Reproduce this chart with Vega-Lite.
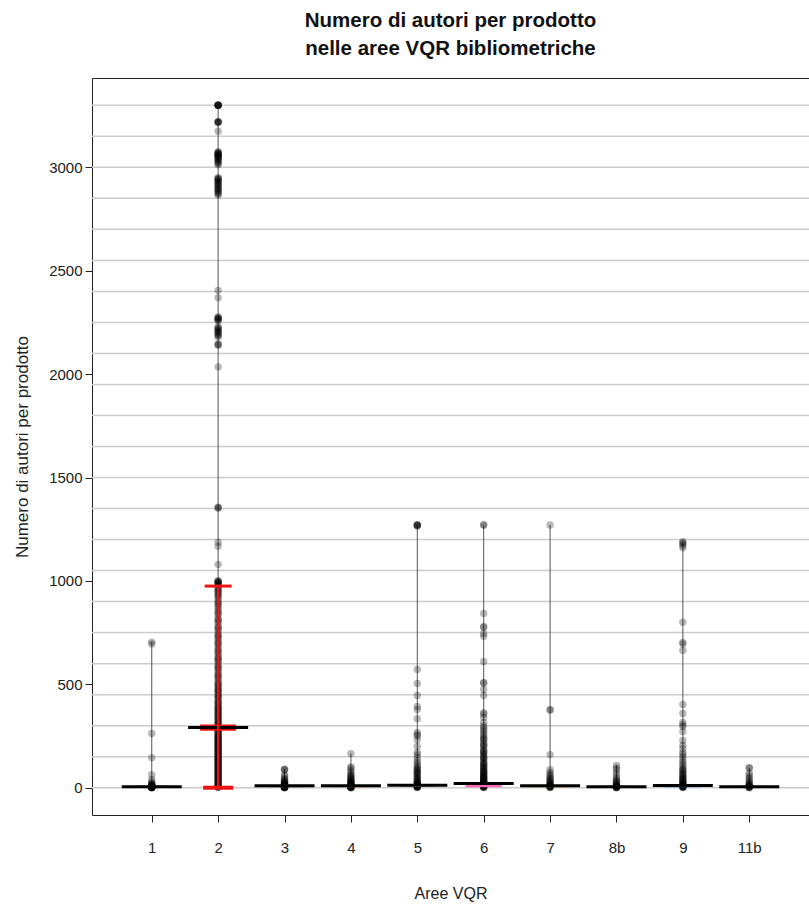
{
  "$schema": "https://vega.github.io/schema/vega-lite/v6.json",
  "width": 717,
  "height": 737,
  "autosize": {"type": "none"},
  "padding": {"left": 92, "top": 78, "right": 0, "bottom": 91},
  "background": "white",
  "title": {
    "text": ["Numero di autori per prodotto", "nelle aree VQR bibliometriche"],
    "font": "Liberation Sans",
    "fontSize": 20.5,
    "fontWeight": "bold",
    "color": "#111111",
    "lineHeight": 28,
    "offset": 19,
    "anchor": "middle"
  },
  "config": {
    "view": {"stroke": "#222222", "strokeWidth": 1},
    "font": "Liberation Sans",
    "axisX": {
      "titleFont": "Liberation Sans", "titleFontSize": 16, "titleFontWeight": "normal", "titleColor": "#222222", "titlePadding": 30,
      "labelAngle": 0, "labelFont": "Liberation Sans", "labelFontSize": 15, "labelColor": "#222222", "labelPadding": 18,
      "domain": false, "ticks": true, "tickSize": 7, "tickColor": "#222222", "grid": false
    },
    "axisY": {
      "titleFont": "Liberation Sans", "titleFontSize": 17, "titleFontWeight": "normal", "titleColor": "#222222", "titlePadding": 17,
      "labelFont": "Liberation Sans", "labelFontSize": 15, "labelColor": "#222222", "labelPadding": 3, "format": "d",
      "domain": false, "ticks": true, "tickSize": 7, "tickColor": "#222222", "grid": false
    }
  },
  "datasets": {
    "grid": [
      {"g": 0}, {"g": 150}, {"g": 300}, {"g": 450}, {"g": 600}, {"g": 750}, {"g": 900}, {"g": 1050},
      {"g": 1200}, {"g": 1350}, {"g": 1500}, {"g": 1650}, {"g": 1800}, {"g": 1950}, {"g": 2100},
      {"g": 2250}, {"g": 2400}, {"g": 2550}, {"g": 2700}, {"g": 2850}, {"g": 3000}, {"g": 3150}, {"g": 3300}
    ],
    "sum": [
      {"a": "1", "lo": 0, "hi": 704, "m": 5, "b1": 1, "b2": 9},
      {"a": "2", "lo": 0, "hi": 3300, "m": 291, "b1": 276, "b2": 306},
      {"a": "3", "lo": 0, "hi": 90, "m": 9, "b1": 2, "b2": 10},
      {"a": "4", "lo": 0, "hi": 165, "m": 9, "b1": 2, "b2": 10},
      {"a": "5", "lo": 0, "hi": 1270, "m": 12, "b1": 4, "b2": 14},
      {"a": "6", "lo": 0, "hi": 1270, "m": 20, "b1": 2, "b2": 22},
      {"a": "7", "lo": 0, "hi": 1270, "m": 9, "b1": 2, "b2": 10},
      {"a": "8b", "lo": 0, "hi": 108, "m": 5, "b1": 1, "b2": 9},
      {"a": "9", "lo": 0, "hi": 1190, "m": 11, "b1": 2, "b2": 12},
      {"a": "11b", "lo": 0, "hi": 97, "m": 5, "b1": 1, "b2": 9}
    ],
    "err": [
      {"a": "2", "lo": 0, "hi": 975}
    ],
    "pts": [
      {"a":"1","v":704},{"a":"1","v":695},{"a":"1","v":262},{"a":"1","v":145},{"a":"1","v":63},{"a":"1","v":40},{"a":"1","v":29},{"a":"1","v":22},{"a":"1","v":18},{"a":"1","v":15},{"a":"1","v":13},{"a":"1","v":11},{"a":"1","v":10},{"a":"1","v":9},{"a":"1","v":8},{"a":"1","v":7},{"a":"1","v":7},{"a":"1","v":6},{"a":"1","v":6},{"a":"1","v":5},{"a":"1","v":5},{"a":"1","v":5},{"a":"1","v":4},{"a":"1","v":4},{"a":"1","v":4},{"a":"1","v":3},{"a":"1","v":3},{"a":"1","v":3},{"a":"1","v":2},{"a":"1","v":2},{"a":"1","v":2},{"a":"1","v":1},{"a":"1","v":1},{"a":"1","v":1},{"a":"1","v":0},{"a":"1","v":0},

      {"a":"2","v":3300},{"a":"2","v":3300},{"a":"2","v":3300},{"a":"2","v":3300},{"a":"2","v":3300},{"a":"2","v":3300},{"a":"2","v":3300},{"a":"2","v":3220},{"a":"2","v":3220},{"a":"2","v":3220},{"a":"2","v":3220},{"a":"2","v":3215},{"a":"2","v":3175},
      {"a":"2","v":3075},{"a":"2","v":3072},{"a":"2","v":3070},{"a":"2","v":3068},{"a":"2","v":3065},{"a":"2","v":3062},{"a":"2","v":3060},{"a":"2","v":3058},{"a":"2","v":3055},{"a":"2","v":3052},{"a":"2","v":3050},{"a":"2","v":3046},{"a":"2","v":3042},{"a":"2","v":3038},{"a":"2","v":3033},{"a":"2","v":3028},{"a":"2","v":3022},{"a":"2","v":3017},{"a":"2","v":3012},
      {"a":"2","v":2950},{"a":"2","v":2947},{"a":"2","v":2944},{"a":"2","v":2940},{"a":"2","v":2936},{"a":"2","v":2931},{"a":"2","v":2926},{"a":"2","v":2922},{"a":"2","v":2918},{"a":"2","v":2912},{"a":"2","v":2907},{"a":"2","v":2902},{"a":"2","v":2897},{"a":"2","v":2893},{"a":"2","v":2888},{"a":"2","v":2882},{"a":"2","v":2877},{"a":"2","v":2871},{"a":"2","v":2866},
      {"a":"2","v":2405},{"a":"2","v":2369},{"a":"2","v":2277},{"a":"2","v":2274},{"a":"2","v":2271},{"a":"2","v":2268},{"a":"2","v":2265},{"a":"2","v":2261},{"a":"2","v":2258},{"a":"2","v":2228},{"a":"2","v":2225},{"a":"2","v":2221},{"a":"2","v":2215},{"a":"2","v":2210},{"a":"2","v":2205},{"a":"2","v":2201},{"a":"2","v":2195},{"a":"2","v":2190},{"a":"2","v":2185},{"a":"2","v":2180},{"a":"2","v":2146},{"a":"2","v":2143},{"a":"2","v":2140},{"a":"2","v":2035},
      {"a":"2","v":1357},{"a":"2","v":1354},{"a":"2","v":1352},{"a":"2","v":1187},{"a":"2","v":1168},{"a":"2","v":1080},
      {"a":"2","v":1001},{"a":"2","v":998},{"a":"2","v":996},{"a":"2","v":993},{"a":"2","v":991},{"a":"2","v":988},{"a":"2","v":984},{"a":"2","v":979},{"a":"2","v":971},{"a":"2","v":963},{"a":"2","v":953},{"a":"2","v":947},{"a":"2","v":938},{"a":"2","v":931},{"a":"2","v":917},{"a":"2","v":904},{"a":"2","v":896},{"a":"2","v":881},{"a":"2","v":872},{"a":"2","v":860},{"a":"2","v":851},{"a":"2","v":836},{"a":"2","v":818},{"a":"2","v":806},{"a":"2","v":797},{"a":"2","v":781},{"a":"2","v":768},{"a":"2","v":759},{"a":"2","v":744},{"a":"2","v":737},{"a":"2","v":724},{"a":"2","v":713},{"a":"2","v":702},{"a":"2","v":691},{"a":"2","v":678},{"a":"2","v":669},{"a":"2","v":654},{"a":"2","v":646},{"a":"2","v":633},{"a":"2","v":626},{"a":"2","v":614},{"a":"2","v":606},{"a":"2","v":593},{"a":"2","v":586},{"a":"2","v":574},{"a":"2","v":566},{"a":"2","v":553},{"a":"2","v":546},{"a":"2","v":533},{"a":"2","v":527},{"a":"2","v":514},{"a":"2","v":506},{"a":"2","v":497},{"a":"2","v":491},{"a":"2","v":481},{"a":"2","v":476},{"a":"2","v":467},{"a":"2","v":461},{"a":"2","v":451},{"a":"2","v":446},{"a":"2","v":437},{"a":"2","v":431},{"a":"2","v":421},{"a":"2","v":416},{"a":"2","v":407},{"a":"2","v":401},{"a":"2","v":393},{"a":"2","v":389},{"a":"2","v":381},{"a":"2","v":377},{"a":"2","v":369},{"a":"2","v":365},{"a":"2","v":357},{"a":"2","v":353},{"a":"2","v":345},{"a":"2","v":341},{"a":"2","v":333},{"a":"2","v":329},{"a":"2","v":321},{"a":"2","v":317},{"a":"2","v":309},{"a":"2","v":306},{"a":"2","v":299},{"a":"2","v":296},{"a":"2","v":289},{"a":"2","v":286},{"a":"2","v":279},{"a":"2","v":276},{"a":"2","v":269},{"a":"2","v":266},{"a":"2","v":259},{"a":"2","v":256},{"a":"2","v":249},{"a":"2","v":247},{"a":"2","v":242},{"a":"2","v":238},{"a":"2","v":233},{"a":"2","v":230},{"a":"2","v":225},{"a":"2","v":222},{"a":"2","v":217},{"a":"2","v":214},{"a":"2","v":209},{"a":"2","v":206},{"a":"2","v":201},{"a":"2","v":198},{"a":"2","v":193},{"a":"2","v":190},{"a":"2","v":185},{"a":"2","v":182},{"a":"2","v":177},{"a":"2","v":174},{"a":"2","v":169},{"a":"2","v":166},{"a":"2","v":161},{"a":"2","v":158},{"a":"2","v":153},{"a":"2","v":150},{"a":"2","v":145},{"a":"2","v":142},{"a":"2","v":137},{"a":"2","v":134},{"a":"2","v":129},{"a":"2","v":126},{"a":"2","v":121},{"a":"2","v":118},{"a":"2","v":113},{"a":"2","v":110},{"a":"2","v":105},{"a":"2","v":102},{"a":"2","v":97},{"a":"2","v":94},{"a":"2","v":89},{"a":"2","v":86},{"a":"2","v":81},{"a":"2","v":78},{"a":"2","v":73},{"a":"2","v":70},{"a":"2","v":65},{"a":"2","v":62},{"a":"2","v":57},{"a":"2","v":54},{"a":"2","v":49},{"a":"2","v":46},{"a":"2","v":41},{"a":"2","v":38},{"a":"2","v":33},{"a":"2","v":30},{"a":"2","v":25},{"a":"2","v":22},{"a":"2","v":17},{"a":"2","v":14},{"a":"2","v":9},{"a":"2","v":6},{"a":"2","v":3},{"a":"2","v":1},
      {"a":"2","v":955},{"a":"2","v":925},{"a":"2","v":888},{"a":"2","v":843},{"a":"2","v":812},{"a":"2","v":775},{"a":"2","v":731},{"a":"2","v":697},{"a":"2","v":661},{"a":"2","v":621},{"a":"2","v":580},{"a":"2","v":540},{"a":"2","v":502},{"a":"2","v":471},{"a":"2","v":442},{"a":"2","v":411},{"a":"2","v":385},{"a":"2","v":361},{"a":"2","v":337},{"a":"2","v":313},{"a":"2","v":292},{"a":"2","v":272},{"a":"2","v":252},{"a":"2","v":235},{"a":"2","v":219},{"a":"2","v":203},{"a":"2","v":187},{"a":"2","v":171},{"a":"2","v":155},{"a":"2","v":139},{"a":"2","v":123},{"a":"2","v":107},{"a":"2","v":91},{"a":"2","v":75},{"a":"2","v":59},{"a":"2","v":43},{"a":"2","v":27},{"a":"2","v":11},{"a":"2","v":2},

      {"a":"3","v":90},{"a":"3","v":88},{"a":"3","v":85},{"a":"3","v":60},{"a":"3","v":55},{"a":"3","v":45},{"a":"3","v":40},{"a":"3","v":35},{"a":"3","v":30},{"a":"3","v":28},{"a":"3","v":25},{"a":"3","v":22},{"a":"3","v":20},{"a":"3","v":18},{"a":"3","v":16},{"a":"3","v":15},{"a":"3","v":14},{"a":"3","v":12},{"a":"3","v":11},{"a":"3","v":10},{"a":"3","v":9},{"a":"3","v":8},{"a":"3","v":8},{"a":"3","v":7},{"a":"3","v":6},{"a":"3","v":6},{"a":"3","v":5},{"a":"3","v":5},{"a":"3","v":4},{"a":"3","v":4},{"a":"3","v":3},{"a":"3","v":3},{"a":"3","v":2},{"a":"3","v":2},{"a":"3","v":1},{"a":"3","v":1},{"a":"3","v":1},{"a":"3","v":0},

      {"a":"4","v":165},{"a":"4","v":100},{"a":"4","v":95},{"a":"4","v":85},{"a":"4","v":75},{"a":"4","v":65},{"a":"4","v":60},{"a":"4","v":55},{"a":"4","v":50},{"a":"4","v":45},{"a":"4","v":40},{"a":"4","v":38},{"a":"4","v":35},{"a":"4","v":30},{"a":"4","v":28},{"a":"4","v":25},{"a":"4","v":22},{"a":"4","v":20},{"a":"4","v":18},{"a":"4","v":16},{"a":"4","v":14},{"a":"4","v":12},{"a":"4","v":10},{"a":"4","v":9},{"a":"4","v":8},{"a":"4","v":7},{"a":"4","v":6},{"a":"4","v":5},{"a":"4","v":5},{"a":"4","v":4},{"a":"4","v":4},{"a":"4","v":3},{"a":"4","v":3},{"a":"4","v":2},{"a":"4","v":2},{"a":"4","v":1},{"a":"4","v":1},{"a":"4","v":0},

      {"a":"5","v":1270},{"a":"5","v":1270},{"a":"5","v":1270},{"a":"5","v":1268},{"a":"5","v":1265},{"a":"5","v":572},{"a":"5","v":504},{"a":"5","v":446},{"a":"5","v":393},{"a":"5","v":378},{"a":"5","v":334},{"a":"5","v":267},{"a":"5","v":257},{"a":"5","v":250},{"a":"5","v":232},{"a":"5","v":200},{"a":"5","v":170},{"a":"5","v":160},{"a":"5","v":145},{"a":"5","v":130},{"a":"5","v":120},{"a":"5","v":110},{"a":"5","v":100},{"a":"5","v":95},{"a":"5","v":90},{"a":"5","v":85},{"a":"5","v":80},{"a":"5","v":75},{"a":"5","v":70},{"a":"5","v":65},{"a":"5","v":60},{"a":"5","v":55},{"a":"5","v":50},{"a":"5","v":45},{"a":"5","v":40},{"a":"5","v":36},{"a":"5","v":32},{"a":"5","v":28},{"a":"5","v":25},{"a":"5","v":22},{"a":"5","v":20},{"a":"5","v":18},{"a":"5","v":16},{"a":"5","v":14},{"a":"5","v":12},{"a":"5","v":10},{"a":"5","v":9},{"a":"5","v":8},{"a":"5","v":7},{"a":"5","v":6},{"a":"5","v":5},{"a":"5","v":4},{"a":"5","v":3},{"a":"5","v":2},{"a":"5","v":1},

      {"a":"6","v":1270},{"a":"6","v":1270},{"a":"6","v":843},{"a":"6","v":780},{"a":"6","v":775},{"a":"6","v":746},{"a":"6","v":732},{"a":"6","v":610},{"a":"6","v":509},{"a":"6","v":505},{"a":"6","v":475},{"a":"6","v":446},{"a":"6","v":363},{"a":"6","v":355},{"a":"6","v":340},{"a":"6","v":315},{"a":"6","v":300},{"a":"6","v":290},{"a":"6","v":280},{"a":"6","v":271},{"a":"6","v":260},{"a":"6","v":250},{"a":"6","v":240},{"a":"6","v":230},{"a":"6","v":218},{"a":"6","v":210},{"a":"6","v":200},{"a":"6","v":190},{"a":"6","v":180},{"a":"6","v":172},{"a":"6","v":165},{"a":"6","v":158},{"a":"6","v":150},{"a":"6","v":142},{"a":"6","v":135},{"a":"6","v":128},{"a":"6","v":120},{"a":"6","v":114},{"a":"6","v":108},{"a":"6","v":102},{"a":"6","v":96},{"a":"6","v":90},{"a":"6","v":85},{"a":"6","v":80},{"a":"6","v":75},{"a":"6","v":70},{"a":"6","v":65},{"a":"6","v":60},{"a":"6","v":56},{"a":"6","v":52},{"a":"6","v":48},{"a":"6","v":44},{"a":"6","v":40},{"a":"6","v":36},{"a":"6","v":33},{"a":"6","v":30},{"a":"6","v":27},{"a":"6","v":24},{"a":"6","v":21},{"a":"6","v":18},{"a":"6","v":16},{"a":"6","v":14},{"a":"6","v":12},{"a":"6","v":10},{"a":"6","v":8},{"a":"6","v":6},{"a":"6","v":5},{"a":"6","v":4},{"a":"6","v":3},{"a":"6","v":2},{"a":"6","v":1},
      {"a":"6","v":236},{"a":"6","v":205},{"a":"6","v":176},{"a":"6","v":146},{"a":"6","v":117},{"a":"6","v":99},{"a":"6","v":82},{"a":"6","v":67},{"a":"6","v":54},{"a":"6","v":42},{"a":"6","v":31},{"a":"6","v":22},{"a":"6","v":13},{"a":"6","v":7},

      {"a":"7","v":1270},{"a":"7","v":378},{"a":"7","v":375},{"a":"7","v":160},{"a":"7","v":87},{"a":"7","v":75},{"a":"7","v":65},{"a":"7","v":58},{"a":"7","v":50},{"a":"7","v":45},{"a":"7","v":40},{"a":"7","v":35},{"a":"7","v":30},{"a":"7","v":26},{"a":"7","v":22},{"a":"7","v":18},{"a":"7","v":15},{"a":"7","v":12},{"a":"7","v":10},{"a":"7","v":8},{"a":"7","v":6},{"a":"7","v":5},{"a":"7","v":4},{"a":"7","v":3},{"a":"7","v":2},{"a":"7","v":1},

      {"a":"8b","v":108},{"a":"8b","v":95},{"a":"8b","v":87},{"a":"8b","v":73},{"a":"8b","v":60},{"a":"8b","v":48},{"a":"8b","v":40},{"a":"8b","v":35},{"a":"8b","v":30},{"a":"8b","v":25},{"a":"8b","v":20},{"a":"8b","v":16},{"a":"8b","v":12},{"a":"8b","v":10},{"a":"8b","v":8},{"a":"8b","v":6},{"a":"8b","v":5},{"a":"8b","v":4},{"a":"8b","v":3},{"a":"8b","v":2},{"a":"8b","v":1},{"a":"8b","v":1},{"a":"8b","v":0},

      {"a":"9","v":1190},{"a":"9","v":1185},{"a":"9","v":1180},{"a":"9","v":1170},{"a":"9","v":1160},{"a":"9","v":800},{"a":"9","v":702},{"a":"9","v":695},{"a":"9","v":664},{"a":"9","v":402},{"a":"9","v":359},{"a":"9","v":315},{"a":"9","v":305},{"a":"9","v":296},{"a":"9","v":271},{"a":"9","v":228},{"a":"9","v":205},{"a":"9","v":190},{"a":"9","v":170},{"a":"9","v":160},{"a":"9","v":150},{"a":"9","v":136},{"a":"9","v":125},{"a":"9","v":115},{"a":"9","v":105},{"a":"9","v":95},{"a":"9","v":85},{"a":"9","v":78},{"a":"9","v":70},{"a":"9","v":62},{"a":"9","v":55},{"a":"9","v":48},{"a":"9","v":42},{"a":"9","v":36},{"a":"9","v":30},{"a":"9","v":25},{"a":"9","v":20},{"a":"9","v":16},{"a":"9","v":12},{"a":"9","v":10},{"a":"9","v":8},{"a":"9","v":6},{"a":"9","v":4},{"a":"9","v":3},{"a":"9","v":2},{"a":"9","v":1},
      {"a":"9","v":88},{"a":"9","v":66},{"a":"9","v":51},{"a":"9","v":39},{"a":"9","v":28},{"a":"9","v":18},{"a":"9","v":11},{"a":"9","v":5},

      {"a":"11b","v":97},{"a":"11b","v":95},{"a":"11b","v":70},{"a":"11b","v":60},{"a":"11b","v":50},{"a":"11b","v":42},{"a":"11b","v":35},{"a":"11b","v":28},{"a":"11b","v":22},{"a":"11b","v":18},{"a":"11b","v":14},{"a":"11b","v":10},{"a":"11b","v":8},{"a":"11b","v":6},{"a":"11b","v":4},{"a":"11b","v":3},{"a":"11b","v":2},{"a":"11b","v":1},{"a":"11b","v":0}
    ]
  },
  "layer": [
    {
      "data": {"name": "grid"},
      "mark": {"type": "rule", "color": "#cccccc", "strokeWidth": 1.5},
      "encoding": {
        "y": {"field": "g", "type": "quantitative", "scale": {"domain": [-132, 3432], "nice": false, "zero": false},
              "axis": {"title": "Numero di autori per prodotto", "values": [0, 500, 1000, 1500, 2000, 2500, 3000]}}
      }
    },
    {
      "data": {"name": "sum"},
      "mark": {"type": "rule", "color": "#555555", "strokeWidth": 1},
      "encoding": {
        "x": {"field": "a", "type": "nominal", "scale": {"type": "point", "domain": ["1","2","3","4","5","6","7","8b","9","11b"], "padding": 0.9}, "axis": {"title": "Aree VQR"}},
        "y": {"field": "lo", "type": "quantitative", "scale": {"domain": [-132, 3432], "nice": false, "zero": false},
              "axis": {"title": "Numero di autori per prodotto", "values": [0, 500, 1000, 1500, 2000, 2500, 3000]}},
        "y2": {"field": "hi"}
      }
    },
    {
      "data": {"name": "pts"},
      "mark": {"type": "circle", "size": 55, "color": "#000000", "opacity": 0.28},
      "encoding": {
        "x": {"field": "a", "type": "nominal", "scale": {"type": "point", "domain": ["1","2","3","4","5","6","7","8b","9","11b"], "padding": 0.9}, "axis": {"title": "Aree VQR"}},
        "y": {"field": "v", "type": "quantitative", "scale": {"domain": [-132, 3432], "nice": false, "zero": false},
              "axis": {"title": "Numero di autori per prodotto", "values": [0, 500, 1000, 1500, 2000, 2500, 3000]}}
      }
    },
    {
      "data": {"name": "sum"},
      "mark": {"type": "bar", "width": 36},
      "encoding": {
        "x": {"field": "a", "type": "nominal", "scale": {"type": "point", "domain": ["1","2","3","4","5","6","7","8b","9","11b"], "padding": 0.9}, "axis": {"title": "Aree VQR"}},
        "y": {"field": "b1", "type": "quantitative", "scale": {"domain": [-132, 3432], "nice": false, "zero": false},
              "axis": {"title": "Numero di autori per prodotto", "values": [0, 500, 1000, 1500, 2000, 2500, 3000]}},
        "y2": {"field": "b2"},
        "color": {"field": "a", "type": "nominal", "legend": null, "scale": {"domain": ["1","2","3","4","5","6","7","8b","9","11b"], "range": ["#0C5BB0", "#EE1111", "#22BB22", "#FF9933", "#BBBBBB", "#FF66B3", "#E37A1F", "#E6B422", "#1E7FD9", "#F0402A"]}}
      }
    },
    {
      "data": {"name": "sum"},
      "mark": {"type": "tick", "color": "#000000", "size": 60, "thickness": 3, "opacity": 1},
      "encoding": {
        "x": {"field": "a", "type": "nominal", "scale": {"type": "point", "domain": ["1","2","3","4","5","6","7","8b","9","11b"], "padding": 0.9}, "axis": {"title": "Aree VQR"}},
        "y": {"field": "m", "type": "quantitative", "scale": {"domain": [-132, 3432], "nice": false, "zero": false},
              "axis": {"title": "Numero di autori per prodotto", "values": [0, 500, 1000, 1500, 2000, 2500, 3000]}}
      }
    },
    {
      "data": {"name": "err"},
      "mark": {"type": "rule", "color": "#EE1111", "strokeWidth": 2.5},
      "encoding": {
        "x": {"field": "a", "type": "nominal", "scale": {"type": "point", "domain": ["1","2","3","4","5","6","7","8b","9","11b"], "padding": 0.9}, "axis": {"title": "Aree VQR"}},
        "y": {"field": "lo", "type": "quantitative", "scale": {"domain": [-132, 3432], "nice": false, "zero": false},
              "axis": {"title": "Numero di autori per prodotto", "values": [0, 500, 1000, 1500, 2000, 2500, 3000]}},
        "y2": {"field": "hi"}
      }
    },
    {
      "data": {"name": "err"},
      "mark": {"type": "tick", "color": "#EE1111", "size": 27, "thickness": 3, "opacity": 1},
      "encoding": {
        "x": {"field": "a", "type": "nominal", "scale": {"type": "point", "domain": ["1","2","3","4","5","6","7","8b","9","11b"], "padding": 0.9}, "axis": {"title": "Aree VQR"}},
        "y": {"field": "hi", "type": "quantitative", "scale": {"domain": [-132, 3432], "nice": false, "zero": false},
              "axis": {"title": "Numero di autori per prodotto", "values": [0, 500, 1000, 1500, 2000, 2500, 3000]}}
      }
    },
    {
      "data": {"name": "err"},
      "mark": {"type": "tick", "color": "#EE1111", "size": 30, "thickness": 4, "opacity": 1},
      "encoding": {
        "x": {"field": "a", "type": "nominal", "scale": {"type": "point", "domain": ["1","2","3","4","5","6","7","8b","9","11b"], "padding": 0.9}, "axis": {"title": "Aree VQR"}},
        "y": {"field": "lo", "type": "quantitative", "scale": {"domain": [-132, 3432], "nice": false, "zero": false},
              "axis": {"title": "Numero di autori per prodotto", "values": [0, 500, 1000, 1500, 2000, 2500, 3000]}}
      }
    }
  ]
}
